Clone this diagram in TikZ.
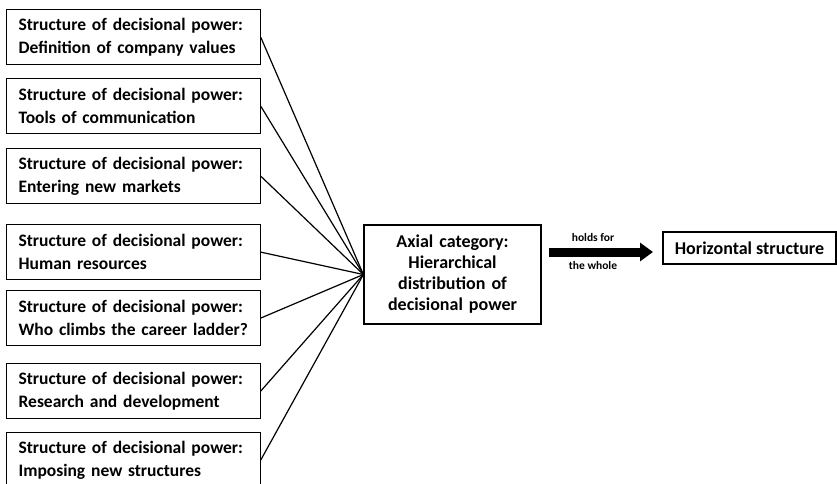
\documentclass[tikz,border=0pt]{standalone}
\usepackage{fontspec}
\setmainfont{Carlito}
\usetikzlibrary{arrows.meta}
\hyphenpenalty=10000
\exhyphenpenalty=10000
\begin{document}
\begin{tikzpicture}[x=1pt,y=-1pt,
  lbox/.style={draw=black,line width=1.2pt,anchor=north west,inner xsep=12pt,inner ysep=0pt,
    text width=229.5pt,minimum height=55pt,align=left,
    font=\bfseries\fontsize{17.5}{22.5}\selectfont},
  cbox/.style={draw=black,line width=1.2pt,inner sep=0pt,minimum width=177pt,minimum height=99pt,
    text width=170pt,align=center,font=\bfseries\fontsize{18}{21}\selectfont},
  hbox/.style={draw=black,line width=1.2pt,inner sep=0pt,minimum width=173pt,minimum height=32pt,
    font=\bfseries\fontsize{18}{21}\selectfont},
  small/.style={font=\bfseries\fontsize{11.5}{13}\selectfont,inner sep=0pt},
  conn/.style={draw=black,line width=1.2pt}]
\useasboundingbox (0,0) rectangle (837,484);
\node[lbox] (b1) at (6,9) {Structure of decisional power:\\Definition of company values};
\node[lbox] (b2) at (6,78) {Structure of decisional power:\\Tools of communication};
\node[lbox] (b3) at (6,148) {Structure of decisional power:\\Entering new markets};
\node[lbox] (b4) at (6,224) {Structure of decisional power:\\Human resources};
\node[lbox] (b5) at (6,290) {Structure of decisional power:\\Who climbs the career ladder?};
\node[lbox] (b6) at (6,363) {Structure of decisional power:\\Research and development};
\node[lbox] (b7) at (6,432) {Structure of decisional power:\\Imposing new structures};
\node[cbox] (c) at (452.5,274.5) {Axial category:\\Hierarchical\\distribution of\\decisional power};
\node[hbox] (h) at (749.5,248) {Horizontal structure};
\foreach \i in {1,...,7} \draw[conn] (b\i.east) -- (c.west);
\coordinate (as) at (549,252);
\coordinate (ae) at (653,252);
\draw[line width=9pt,-{Triangle[length=13pt,width=18pt]}] (as) -- (ae);
\node[small] (l1) at (593,238) {holds for};
\node[small] (l2) at (593,266) {the whole};
\end{tikzpicture}
\end{document}
